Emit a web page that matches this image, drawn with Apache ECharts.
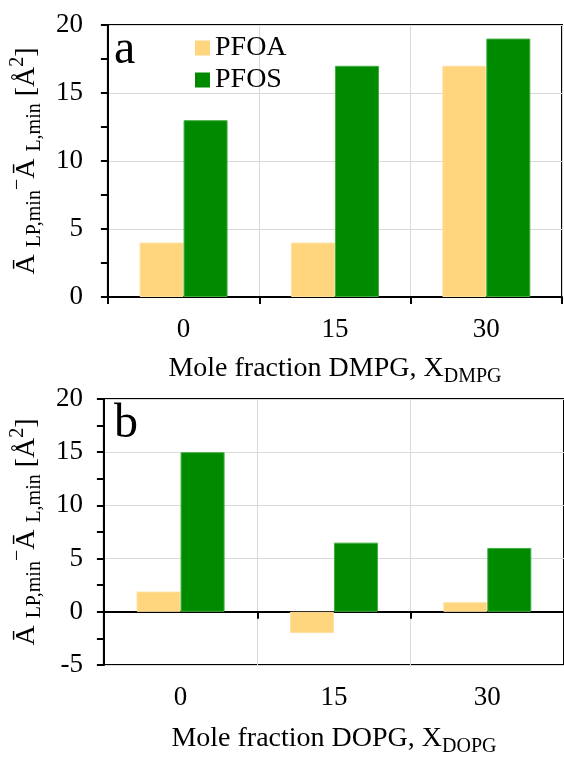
<!DOCTYPE html>
<html>
<head>
<meta charset="utf-8">
<script src="https://cdn.jsdelivr.net/npm/echarts@6/dist/echarts.min.js"></script>
<style>
  html, body { margin: 0; padding: 0; background: #fff; }
  #chart { width: 564px; height: 761px; }
</style>
</head>
<body>
<div id="chart"></div>
<script>
// mole fractions (x categories)
const categories = ['0', '15', '30']
// panel a: DMPG
const pfoaDmpg = [4, 4, 17]
const pfosDmpg = [13, 17, 19]
// panel b: DOPG
const pfoaDopg = [1.9, -2, 0.9]
const pfosDopg = [15, 6.5, 6]

const serif = 'Liberation Serif'
const colorPfoa = '#ffd57e'
const colorPfos = '#008a00'

const myChart = echarts.init(document.getElementById('chart'))

const richName = {
  m: { fontSize: 28, lineHeight: 37, fontFamily: serif, color: '#000' },
  s: { fontSize: 20, lineHeight: 20, fontFamily: serif, color: '#000', verticalAlign: 'bottom' },
  p: { fontSize: 20, lineHeight: 20, fontFamily: serif, color: '#000', verticalAlign: 'top' }
}
const yName = '{m|Ā }{s|LP,min}{p|−}{m|Ā }{s|L,min}{m| [Å}{p|2}{m|]}'

const yAxisBase = (min, margin) => ({
  type: 'value',
  min: min,
  max: 20,
  interval: 5,
  name: yName,
  nameLocation: 'middle',
  nameRotate: 90,
  nameGap: 56,
  nameTextStyle: { rich: richName },
  axisLine: { show: true, lineStyle: { color: '#000', width: 2 } },
  axisTick: { show: true, length: 7, lineStyle: { color: '#000', width: 2 } },
  minorTick: { show: true, splitNumber: 2, length: 7, lineStyle: { color: '#000', width: 2 } },
  axisLabel: { fontSize: 27, fontFamily: serif, color: '#000', margin: margin },
  splitLine: { show: true, lineStyle: { color: '#d9d9d9', width: 1 } }
})

const xLine = (gridIndex, showLabels, name) => ({
  type: 'category',
  gridIndex: gridIndex,
  data: categories,
  position: 'bottom',
  axisLine: { show: true, onZero: true, lineStyle: { color: '#000', width: 2 } },
  axisTick: { show: true, length: 7, lineStyle: { color: '#000', width: 2 } },
  axisLabel: { show: showLabels, fontSize: 27, fontFamily: serif, color: '#000', margin: 19 },
  splitLine: { show: true, lineStyle: { color: '#d9d9d9', width: 1 } },
  name: name,
  nameLocation: 'middle',
  nameGap: 53,
  nameTextStyle: { rich: richName }
})

const bar = (name, color, border, xi, yi, data) => ({
  name: name,
  type: 'bar',
  xAxisIndex: xi,
  yAxisIndex: yi,
  data: data,
  barWidth: 44,
  barGap: '0%',
  itemStyle: { color: color, borderColor: border, borderWidth: 1 }
})

myChart.setOption({
  animation: false,
  title: [
    { text: 'a', left: 109, top: 21, textStyle: { fontSize: 48, fontFamily: serif, fontWeight: 'normal', color: '#000' } },
    { text: 'b', left: 109, top: 395, textStyle: { fontSize: 48, fontFamily: serif, fontWeight: 'normal', color: '#000' } }
  ],
  legend: {
    data: ['PFOA', 'PFOS'],
    orient: 'vertical',
    left: 190,
    top: 29,
    icon: 'rect',
    itemWidth: 15,
    itemHeight: 15,
    itemGap: 4,
    itemStyle: { borderWidth: 0 },
    textStyle: { fontSize: 28, fontFamily: serif, color: '#000' }
  },
  grid: [
    { left: 103, right: 2, top: 25, bottom: 464, show: true, borderColor: '#000', borderWidth: 2, containLabel: false },
    { left: 101, right: -2, top: 399, bottom: 96, show: true, borderColor: '#000', borderWidth: 2, containLabel: false }
  ],
  xAxis: [
    xLine(0, true, '{m|Mole fraction DMPG, X}{s|DMPG}'),
    xLine(1, false, ''),
    {
      type: 'category',
      gridIndex: 1,
      data: categories,
      position: 'bottom',
      axisLine: { show: false, onZero: false },
      axisTick: { show: false },
      splitLine: { show: false },
      axisLabel: { fontSize: 27, fontFamily: serif, color: '#000', margin: 19 },
      name: '{m|Mole fraction DOPG, X}{s|DOPG}',
      nameLocation: 'middle',
      nameGap: 55,
      nameTextStyle: { rich: richName }
    }
  ],
  yAxis: [
    Object.assign(yAxisBase(0, 25), { gridIndex: 0 }),
    Object.assign(yAxisBase(-5, 21), { gridIndex: 1 })
  ],
  series: [
    bar('PFOA', colorPfoa, '#ffe0a0', 0, 0, pfoaDmpg),
    bar('PFOS', colorPfos, '#3fae3f', 0, 0, pfosDmpg),
    bar('PFOA', colorPfoa, '#ffe0a0', 1, 1, pfoaDopg),
    bar('PFOS', colorPfos, '#3fae3f', 1, 1, pfosDopg)
  ]
})
</script>
</body>
</html>
